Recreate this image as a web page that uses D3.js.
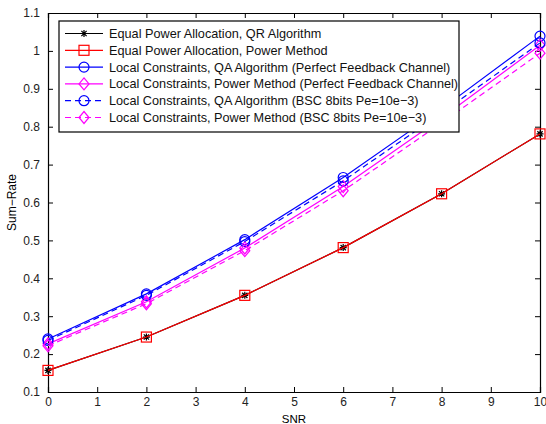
<!DOCTYPE html>
<html>
<head>
<meta charset="utf-8">
<script src="https://cdn.jsdelivr.net/npm/d3@7"></script>
<style>
  body { margin: 0; background: #fff; }
  text { font-family: "Liberation Sans", Arial, sans-serif; }
</style>
</head>
<body>
<div id="chart"></div>
<script>
// values
var snr = [0, 2, 4, 6, 8, 10];
var eqQR = [0.157, 0.245, 0.355, 0.481, 0.623, 0.781];
var eqPower = [0.157, 0.245, 0.355, 0.481, 0.623, 0.781];
var lcQAPerfect = [0.240, 0.359, 0.502, 0.666, 0.847, 1.039];
var lcPowerPerfect = [0.227, 0.338, 0.480, 0.642, 0.823, 1.015];
var lcQABsc = [0.236, 0.355, 0.497, 0.657, 0.836, 1.021];
var lcPowerBsc = [0.222, 0.333, 0.473, 0.631, 0.810, 0.994];
var legendLabels = [
    "Equal Power Allocation, QR Algorithm",
    "Equal Power Allocation, Power Method",
    "Local Constraints, QA Algorithm (Perfect Feedback Channel)",
    "Local Constraints, Power Method (Perfect Feedback Channel)",
    "Local Constraints, QA Algorithm (BSC 8bits Pe=10e\u22123)",
    "Local Constraints, Power Method (BSC 8bits Pe=10e\u22123)"
];
var xTicks = [0, 1, 2, 3, 4, 5, 6, 7, 8, 9, 10];
var yTicks = [0.1, 0.2, 0.3, 0.4, 0.5, 0.6, 0.7, 0.8, 0.9, 1, 1.1];

var series = [
    { values: eqQR, color: "#000000", dash: null, marker: "star" },
    { values: eqPower, color: "#ff0000", dash: null, marker: "square" },
    { values: lcQAPerfect, color: "#0000ff", dash: null, marker: "circle" },
    { values: lcPowerPerfect, color: "#ff00ff", dash: null, marker: "diamond" },
    { values: lcQABsc, color: "#0000ff", dash: "6,4", marker: "circle" },
    { values: lcPowerBsc, color: "#ff00ff", dash: "6,4", marker: "diamond" }
];
series.forEach(function (s, i) { s.label = legendLabels[i]; });

var width = 546, height = 424;
var margin = { left: 48, right: 6, top: 13, bottom: 32 };

var svg = d3.select("#chart").append("svg")
    .attr("width", width)
    .attr("height", height);

var x = d3.scaleLinear().domain([0, 10]).range([margin.left, width - margin.right]);
var y = d3.scaleLinear().domain([0.1, 1.1]).range([height - margin.bottom, margin.top]);

var fmt = function (d) { return d3.format("")(+d.toFixed(1)); };

// axes, ticks pointing inward, mirrored on top and right
svg.append("g")
    .attr("transform", "translate(0," + y.range()[0] + ")")
    .call(d3.axisBottom(x).tickValues(xTicks).tickSize(-5).tickPadding(5).tickFormat(fmt));
svg.append("g")
    .attr("transform", "translate(0," + y.range()[1] + ")")
    .call(d3.axisTop(x).tickValues(xTicks).tickSize(-5).tickFormat(""));
svg.append("g")
    .attr("transform", "translate(" + x.range()[0] + ",0)")
    .call(d3.axisLeft(y).tickValues(yTicks).tickSize(-5).tickPadding(8).tickFormat(fmt));
svg.append("g")
    .attr("transform", "translate(" + x.range()[1] + ",0)")
    .call(d3.axisRight(y).tickValues(yTicks).tickSize(-5).tickFormat(""));

svg.selectAll(".domain").attr("stroke", "#000").attr("stroke-width", 1.2);
svg.selectAll(".tick line").attr("stroke", "#000");
svg.selectAll(".tick text").attr("font-size", 12).attr("fill", "#222")
    .style("font-family", "'Liberation Sans', Arial, sans-serif");

svg.append("text")
    .attr("x", (x.range()[0] + x.range()[1]) / 2)
    .attr("y", height - 1)
    .attr("text-anchor", "middle")
    .attr("font-size", 11.5)
    .text("SNR");

svg.append("text")
    .attr("transform", "translate(16," + ((y.range()[0] + y.range()[1]) / 2) + ") rotate(-90)")
    .attr("text-anchor", "middle")
    .attr("font-size", 12)
    .text("Sum\u2212Rate");

function drawMarker(g, type, color) {
    if (type === "star") {
        var r = 3.5;
        g.append("path")
            .attr("d", "M" + (-r) + ",0H" + r + "M0," + (-r) + "V" + r +
                "M" + (-r * 0.75) + "," + (-r * 0.75) + "L" + (r * 0.75) + "," + (r * 0.75) +
                "M" + (-r * 0.75) + "," + (r * 0.75) + "L" + (r * 0.75) + "," + (-r * 0.75))
            .attr("stroke", color).attr("stroke-width", 1.2).attr("fill", "none");
    } else if (type === "square") {
        g.append("rect").attr("x", -5).attr("y", -5).attr("width", 10).attr("height", 10)
            .attr("stroke", color).attr("stroke-width", 1.2).attr("fill", "none");
    } else if (type === "circle") {
        g.append("circle").attr("r", 5)
            .attr("stroke", color).attr("stroke-width", 1.2).attr("fill", "none");
    } else if (type === "diamond") {
        g.append("path").attr("d", "M0,-6L5,0L0,6L-5,0Z")
            .attr("stroke", color).attr("stroke-width", 1.2).attr("fill", "none");
    }
}

var line = d3.line()
    .x(function (d, i) { return x(snr[i]); })
    .y(function (d) { return y(d); });

// plotted in order, like the original: red line lands on top of the black one
series.forEach(function (s) {
    svg.append("path")
        .datum(s.values)
        .attr("d", line)
        .attr("fill", "none")
        .attr("stroke", s.color)
        .attr("stroke-width", 1.2)
        .attr("stroke-dasharray", s.dash);
    s.values.forEach(function (v, i) {
        var g = svg.append("g").attr("transform", "translate(" + x(snr[i]) + "," + y(v) + ")");
        drawMarker(g, s.marker, s.color);
    });
});

// legend
var legend = svg.append("g").attr("transform", "translate(59,21)");
legend.append("rect")
    .attr("width", 400).attr("height", 111)
    .attr("fill", "#fff").attr("stroke", "#000").attr("stroke-width", 1.2);

series.forEach(function (s, i) {
    var row = legend.append("g").attr("transform", "translate(0," + (12.5 + i * 16.8) + ")");
    row.append("line")
        .attr("x1", 6).attr("x2", 44)
        .attr("stroke", s.color).attr("stroke-width", 1.2)
        .attr("stroke-dasharray", s.dash);
    drawMarker(row.append("g").attr("transform", "translate(25,0)"), s.marker, s.color);
    row.append("text")
        .attr("x", 50).attr("y", 4.5)
        .attr("font-size", 12.7)
        .attr("fill", "#111")
        .text(s.label);
});
</script>
</body>
</html>
